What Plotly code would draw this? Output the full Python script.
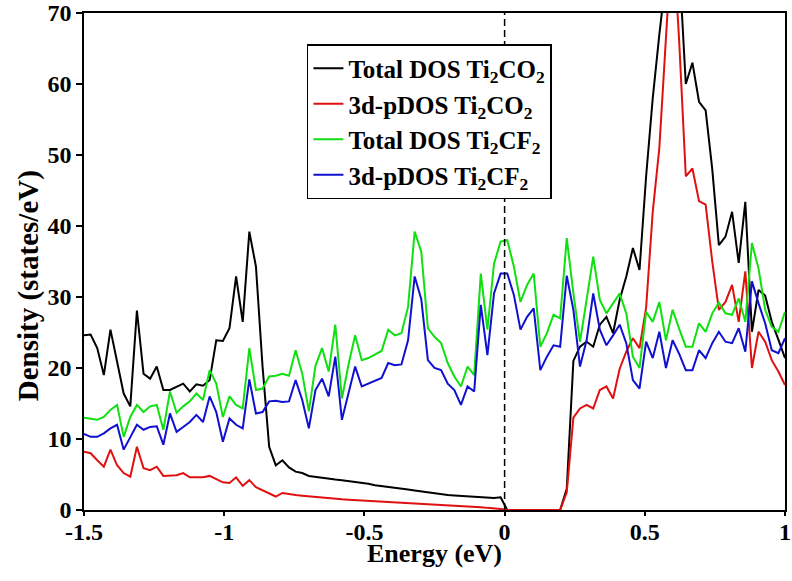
import numpy as np
import plotly.graph_objects as go

# Energy grid (eV), 107 evenly spaced samples from -1.5 to 1.0
energy = np.linspace(-1.5, 1.0, 107)

tot_co2 = [24.6, 24.7, 22.8, 19.0, 25.4, 20.7, 16.4, 14.6, 28.1, 19.2,
           18.5, 20.2, 16.9, 16.9, 17.4, 17.8, 16.7, 17.7, 17.5, 18.3,
           23.9, 23.8, 25.6, 32.9, 26.5, 39.2, 34.3, 20.2, 8.9, 6.3,
           7.0, 6.0, 5.4, 5.2, 4.8, 4.65, 4.5, 4.4, 4.3, 4.2,
           4.1, 4.0, 3.85, 3.7, 3.5, 3.4, 3.25, 3.1, 3.0, 2.9,
           2.75, 2.6, 2.5, 2.35, 2.2, 2.1, 2.05, 2.0, 1.95, 1.85,
           1.8, 1.75, 1.7, 1.8, 0, 0, 0, 0, 0, 0,
           0, 0, 0, 3.0, 21.0, 23.0, 23.7, 23.0, 26.1, 27.2,
           24.9, 29.6, 32.9, 36.9, 33.8, 47.0, 58.0, 67.0, 75.0, 80.0,
           77.0, 60.0, 63.0, 57.5, 56.3, 48.0, 37.3, 38.5, 42.0, 34.8,
           43.4, 25.1, 31.0, 30.2, 26.5, 24.0, 21.4]

pdos_co2 = [8.2, 8.0, 7.0, 6.1, 8.5, 6.3, 5.2, 4.7, 8.9, 5.9,
            5.6, 6.1, 4.8, 4.8, 4.9, 5.2, 4.6, 4.6, 4.6, 4.8,
            4.3, 3.9, 3.8, 4.6, 3.4, 4.2, 3.2, 2.8, 2.4, 1.9,
            2.4, 2.2, 2.1, 2.0, 1.9, 1.8, 1.7, 1.65, 1.6, 1.5,
            1.45, 1.4, 1.3, 1.25, 1.2, 1.15, 1.1, 1.05, 1.0, 0.95,
            0.9, 0.85, 0.8, 0.75, 0.7, 0.65, 0.6, 0.55, 0.5, 0.45,
            0.4, 0.3, 0.25, 0.15, 0, 0, 0, 0, 0, 0,
            0, 0, 0, 2.5, 13.0, 14.3, 14.8, 14.3, 16.9, 17.4,
            15.7, 19.9, 22.3, 24.2, 22.8, 28.5, 42.0, 51.0, 65.0, 82.0,
            66.0, 47.0, 48.1, 43.5, 43.0, 35.0, 28.2, 29.3, 31.7, 26.5,
            33.6, 20.0, 25.1, 23.7, 21.1, 19.5, 17.6]

tot_cf2 = [13.0, 12.8, 12.7, 13.1, 14.1, 14.8, 10.3, 13.1, 14.8, 13.8,
           14.6, 14.8, 11.3, 16.7, 13.7, 14.6, 15.3, 16.4, 15.5, 19.7,
           17.8, 13.1, 16.0, 14.8, 14.3, 22.8, 16.9, 17.1, 18.8, 18.9,
           19.2, 18.9, 22.5, 19.2, 13.9, 20.3, 22.8, 19.5, 26.1, 15.7,
           20.5, 24.6, 21.1, 21.4, 21.9, 22.4, 25.4, 24.6, 24.9, 28.6,
           39.2, 36.4, 25.6, 24.4, 23.5, 20.7, 18.8, 17.4, 20.2, 19.0,
           33.3, 25.4, 34.7, 37.8, 38.0, 34.3, 29.3, 31.7, 33.3, 23.0,
           24.9, 27.5, 27.0, 38.3, 30.5, 23.7, 29.6, 35.7, 29.6, 27.7,
           29.1, 30.5, 27.7, 21.6, 20.0, 27.9, 26.5, 29.3, 23.9, 28.2,
           25.5, 23.0, 23.0, 26.3, 25.1, 27.7, 29.2, 27.7, 27.5, 29.8,
           26.5, 37.6, 34.0, 28.2, 25.8, 25.1, 27.9]

pdos_cf2 = [10.7, 10.3, 10.3, 10.8, 11.5, 12.0, 8.5, 10.3, 12.0, 11.3,
            11.7, 11.8, 9.2, 13.6, 11.0, 11.7, 12.4, 13.4, 12.4, 16.0,
            13.8, 9.6, 12.9, 12.0, 11.5, 18.4, 13.6, 13.8, 15.3, 15.4,
            15.2, 15.3, 18.3, 15.5, 11.5, 16.9, 18.5, 16.0, 21.6, 12.7,
            16.5, 20.2, 17.4, 17.8, 18.2, 18.6, 20.7, 20.4, 20.5, 23.9,
            32.9, 29.7, 21.1, 20.0, 19.7, 17.8, 16.9, 14.8, 17.4, 16.7,
            28.9, 21.8, 30.5, 33.3, 33.3, 30.3, 25.4, 27.2, 28.4, 19.7,
            21.6, 23.2, 23.0, 33.0, 28.2, 20.2, 23.9, 30.5, 25.4, 23.2,
            24.6, 26.1, 23.5, 18.3, 17.1, 23.7, 21.4, 25.1, 20.0, 23.9,
            22.0, 19.7, 19.7, 22.5, 21.4, 23.5, 25.1, 23.7, 23.5, 25.6,
            22.3, 32.2, 29.1, 26.3, 22.5, 22.1, 24.2]

series_names = ["Total DOS Ti<sub>2</sub>CO<sub>2</sub>",
                "3d-pDOS Ti<sub>2</sub>CO<sub>2</sub>",
                "Total DOS Ti<sub>2</sub>CF<sub>2</sub>",
                "3d-pDOS Ti<sub>2</sub>CF<sub>2</sub>"]
series_colors = ["#000000", "#e01010", "#10e010", "#1010d0"]
series_values = [tot_co2, pdos_co2, tot_cf2, pdos_cf2]

x_ticks = [-1.5, -1, -0.5, 0, 0.5, 1]
x_ticklabels = ["-1.5", "-1", "-0.5", "0", "0.5", "1"]
y_ticks = [0, 10, 20, 30, 40, 50, 60, 70]
x_title = "Energy (eV)"
y_title = "Density (states/eV)"

FONT = "Liberation Serif"

fig = go.Figure()
for name, color, vals in zip(series_names, series_colors, series_values):
    fig.add_trace(go.Scatter(x=energy, y=vals, mode="lines", name=name,
                             line=dict(color=color, width=2)))

# Fermi level dashed line
fig.add_shape(type="line", xref="x", yref="y", x0=0, x1=0, y0=0, y1=70,
              line=dict(color="black", width=1.5, dash="7px,4px"), layer="above")

# Axis titles placed as annotations for precise positioning
fig.add_annotation(text=x_title, xref="paper", yref="paper", x=0.5, y=-0.088,
                   xanchor="center", yanchor="middle", showarrow=False,
                   font=dict(family=FONT, size=26, weight="bold", color="black"))
fig.add_annotation(text=y_title, xref="paper", yref="paper", x=-0.080, y=0.452,
                   xanchor="center", yanchor="middle", showarrow=False, textangle=-90,
                   font=dict(family=FONT, size=29, weight="bold", color="black"))

fig.update_layout(
    width=792, height=581,
    margin=dict(l=84, r=7, t=13, b=71, autoexpand=False),
    paper_bgcolor="white", plot_bgcolor="white",
    font=dict(family=FONT, color="black"),
    showlegend=True,
    legend=dict(
        x=0.318, y=0.9376, xanchor="left", yanchor="top",
        bgcolor="white", bordercolor="black", borderwidth=1.5,
        font=dict(family=FONT, size=25, weight="bold", color="black"),
        itemwidth=30, tracegroupgap=0,
    ),
    xaxis=dict(
        range=[-1.5, 1.0], tickvals=x_ticks, ticktext=x_ticklabels,
        showline=True, linecolor="black", linewidth=1.5, mirror=True,
        ticks="outside", ticklen=4, tickwidth=1.5, tickcolor="black",
        showgrid=False, zeroline=False, automargin=False,
        ticklabelstandoff=-5,
        tickfont=dict(family=FONT, size=24, weight="bold", color="black"),
    ),
    yaxis=dict(
        range=[0, 70], tickvals=y_ticks,
        showline=True, linecolor="black", linewidth=1.5, mirror=True,
        ticks="outside", ticklen=6, tickwidth=1.5, tickcolor="black",
        showgrid=False, zeroline=False, automargin=False,
        tickfont=dict(family=FONT, size=24, weight="bold", color="black"),
    ),
)

fig.write_html("out.html", config={"displayModeBar": False},
               post_script="document.body.style.margin='0px';")
